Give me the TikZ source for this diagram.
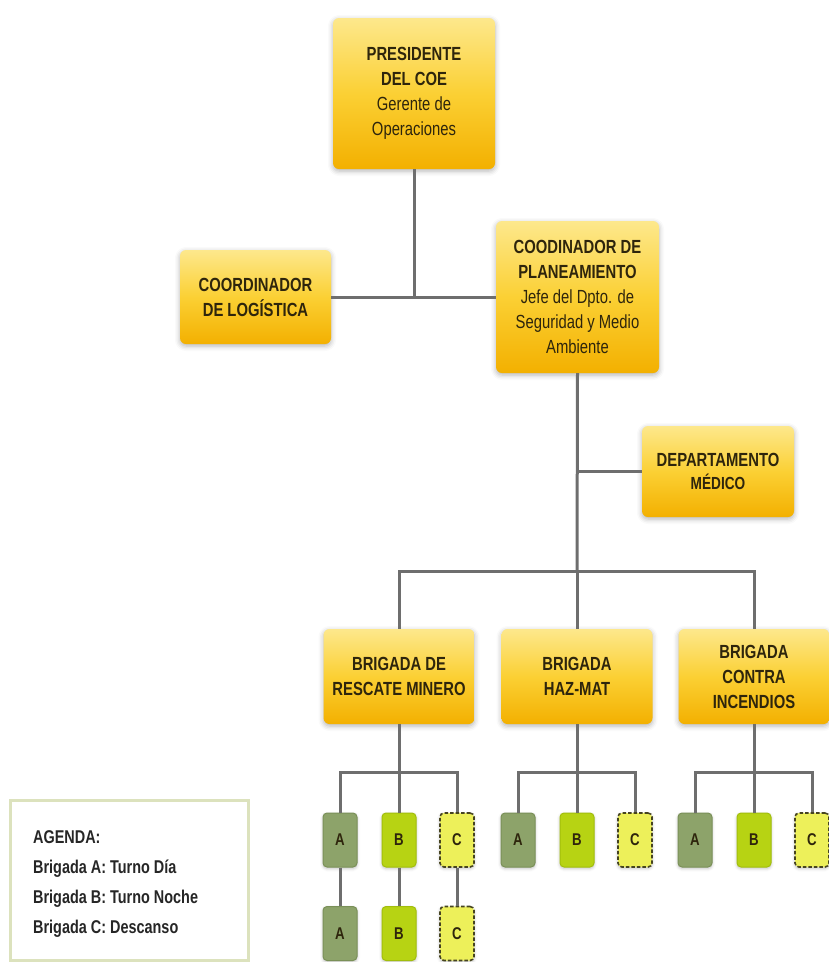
\documentclass[tikz,border=0pt]{standalone}
\usepackage{fontspec}
\setmainfont{Liberation Sans}
\newfontfamily\orgfont[FakeStretch=0.78]{Liberation Sans}
\usetikzlibrary{shadows.blur}

% palette
\definecolor{linegray}{HTML}{6E6E6E}
\definecolor{goldtop}{HTML}{FDE88C}
\definecolor{goldmid}{HTML}{FBD034}
\definecolor{goldbot}{HTML}{F3B000}
\definecolor{inkbrown}{HTML}{2E250C}
\definecolor{brigA}{HTML}{8DA36A}
\definecolor{brigAedge}{HTML}{7A9058}
\definecolor{brigB}{HTML}{B7D313}
\definecolor{brigBedge}{HTML}{A2BE0C}
\definecolor{brigC}{HTML}{EDF05A}
\definecolor{brigCedge}{HTML}{464420}
\definecolor{legendedge}{HTML}{DCE2BD}

\tikzset{
  orgbox/.style={rounded corners=6pt, top color=goldtop, bottom color=goldbot,
    middle color=goldmid, inner sep=0pt, text=inkbrown, align=center,
    font=\orgfont\fontsize{19}{25}\selectfont,
    blur shadow={shadow xshift=0pt, shadow yshift=-2pt, shadow blur radius=5pt,
      shadow opacity=30}},
  shiftbox/.style={rounded corners=4pt, minimum width=34pt, minimum height=54pt,
    inner sep=0pt, text=inkbrown, font=\orgfont\bfseries\fontsize{17}{19}\selectfont,
    blur shadow={shadow xshift=0pt, shadow yshift=-1.5pt, shadow blur radius=3pt,
      shadow opacity=25}},
  shiftA/.style={shiftbox, fill=brigA, draw=brigAedge, line width=1pt},
  shiftB/.style={shiftbox, fill=brigB, draw=brigBedge, line width=1pt},
  shiftC/.style={shiftbox, fill=brigC, draw=brigCedge, line width=1.6pt,
    dash pattern=on 3.5pt off 2pt},
  link/.style={draw=linegray, line width=3pt},
  legendline/.style={anchor=base west, inner sep=0pt, text=black!85,
    font=\orgfont\bfseries\fontsize{18.5}{20}\selectfont},
}

\begin{document}
\begin{tikzpicture}[x=1pt, y=-1pt]
\useasboundingbox (0,0) rectangle (829,962);

% management boxes
\node[orgbox, minimum width=162pt, minimum height=151pt] (pres) at (414,93.5)
  {\textbf{PRESIDENTE}\\\textbf{DEL COE}\\Gerente de\\Operaciones};
\node[orgbox, minimum width=151pt, minimum height=94pt] (log) at (255.5,297)
  {\textbf{COORDINADOR}\\\textbf{DE LOGÍSTICA}};
\node[orgbox, minimum width=163pt, minimum height=152pt] (plan) at (577.5,297)
  {\textbf{COODINADOR DE}\\\textbf{PLANEAMIENTO}\\Jefe del Dpto. de\\Seguridad y Medio\\Ambiente};
\node[orgbox, minimum width=152pt, minimum height=91pt] (med) at (718,471.5)
  {\textbf{DEPARTAMENTO}\\[-2pt]{\fontsize{17.5}{18}\selectfont\textbf{MÉDICO}}};

% brigades
\node[orgbox, minimum width=151pt, minimum height=95pt] (b1) at (399,676.5)
  {\textbf{BRIGADA DE}\\\textbf{RESCATE MINERO}};
\node[orgbox, minimum width=151pt, minimum height=95pt] (b2) at (577,676.5)
  {\textbf{BRIGADA}\\\textbf{HAZ-MAT}};
\node[orgbox, minimum width=151pt, minimum height=95pt] (b3) at (754,676.5)
  {\textbf{BRIGADA}\\\textbf{CONTRA}\\\textbf{INCENDIOS}};

% shift groups
\node[shiftA] (a1) at (340,840) {A};
\node[shiftB] (bb1) at (399,840) {B};
\node[shiftC] (c1) at (457,840) {C};
\node[shiftA] (a1x) at (340,933.5) {A};
\node[shiftB] (bb1x) at (399,933.5) {B};
\node[shiftC] (c1x) at (457,933.5) {C};

\node[shiftA] (a2) at (518,840) {A};
\node[shiftB] (bb2) at (577,840) {B};
\node[shiftC] (c2) at (635,840) {C};

\node[shiftA] (a3) at (695,840) {A};
\node[shiftB] (bb3) at (754,840) {B};
\node[shiftC] (c3) at (812,840) {C};

% connectors
\coordinate (top) at (414,297);
\coordinate (bus) at (577,571);
\coordinate (g1) at (399,772);
\coordinate (g2) at (577,772);
\coordinate (g3) at (754,772);

\draw[link] (pres.south) -- (top);
\draw[link] (log.east) -- (plan.west);
\draw[link] (plan.south) -- (bus);
\draw[link] (plan.south |- med.west) -- (med.west);
\draw[link] (b1.north) |- (bus) -| (b3.north);
\draw[link] (bus) -- (b2.north);

\draw[link] (b1.south) -- (g1);
\draw[link] (a1.north) |- (g1) -| (c1.north);
\draw[link] (g1) -- (bb1.north);
\draw[link] (a1.south) -- (a1x.north);
\draw[link] (bb1.south) -- (bb1x.north);
\draw[link] (c1.south) -- (c1x.north);

\draw[link] (b2.south) -- (g2);
\draw[link] (a2.north) |- (g2) -| (c2.north);
\draw[link] (g2) -- (bb2.north);

\draw[link] (b3.south) -- (g3);
\draw[link] (a3.north) |- (g3) -| (c3.north);
\draw[link] (g3) -- (bb3.north);

% legend
\node[draw=legendedge, line width=3pt, fill=white, minimum width=238pt,
  minimum height=160pt, inner sep=0pt] (legend) at (129,880) {};
\node[legendline] (leg0) at (33,843) {AGENDA:};
\node[legendline] (leg1) at (33,873) {Brigada A: Turno Día};
\node[legendline] (leg2) at (33,903) {Brigada B: Turno Noche};
\node[legendline] (leg3) at (33,933) {Brigada C: Descanso};
\end{tikzpicture}
\end{document}
